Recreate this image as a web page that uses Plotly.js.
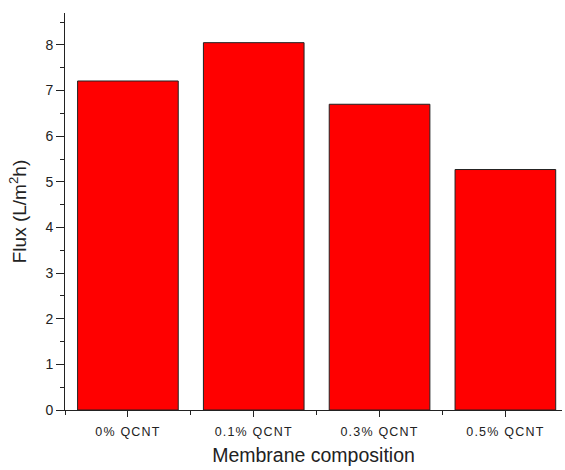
<!DOCTYPE html>
<html><head><meta charset="utf-8">
<script src="https://cdn.plot.ly/plotly-3.0.1.min.js"></script>
<style>html,body{margin:0;padding:0;background:#fff;}#chart{width:565px;height:470px;}
.xtick text{letter-spacing:1.2px;}</style>
</head><body><div id="chart"></div>
<script>
const categories = ["0% QCNT", "0.1% QCNT", "0.3% QCNT", "0.5% QCNT"];
const flux = [7.21, 8.05, 6.70, 5.27];
const yTicks = [0, 1, 2, 3, 4, 5, 6, 7, 8];

const xs = categories.map((c, i) => i);

const trace = {
  type: 'bar',
  x: xs,
  y: flux,
  width: 0.8,
  marker: {color: '#ff0000', line: {color: '#222222', width: 1}},
  hoverinfo: 'x+y'
};

const layout = {
  width: 565, height: 470,
  margin: {l: 65, r: 3, t: 13, b: 60},
  paper_bgcolor: '#fff', plot_bgcolor: '#fff',
  showlegend: false,
  font: {family: 'Arial, "Liberation Sans", sans-serif', color: '#222'},
  xaxis: {
    range: [-0.5, 3.45],
    tickmode: 'array', tickvals: xs, ticktext: categories,
    ticks: 'outside', ticklen: 6, tickwidth: 1, tickcolor: '#222',
    ticklabelstandoff: 4,
    showline: true, linecolor: '#222', linewidth: 1,
    showgrid: false, zeroline: false,
    tickfont: {size: 12.5, color: '#222'},
    minor: {tickmode: 'linear', tick0: 0.5, dtick: 1, ticks: 'outside', ticklen: 4, tickcolor: '#222', showgrid: false},
    title: {text: 'Membrane composition', font: {size: 19.5, color: '#222'}, standoff: 10}
  },
  yaxis: {
    range: [0, 8.7],
    tickmode: 'array', tickvals: yTicks,
    ticks: 'outside', ticklen: 8, tickwidth: 1, tickcolor: '#222',
    showline: true, linecolor: '#222', linewidth: 1,
    showgrid: false, zeroline: false,
    tickfont: {size: 14, color: '#222'},
    minor: {tickmode: 'linear', tick0: 0.5, dtick: 0.5, ticks: 'outside', ticklen: 4, tickcolor: '#222', showgrid: false},
    title: {text: 'Flux (L/m<sup>2</sup>h)', font: {size: 19, color: '#222'}, standoff: 13}
  }
};

Plotly.newPlot('chart', [trace], layout, {displayModeBar: false, staticPlot: true});
</script>
</body></html>
